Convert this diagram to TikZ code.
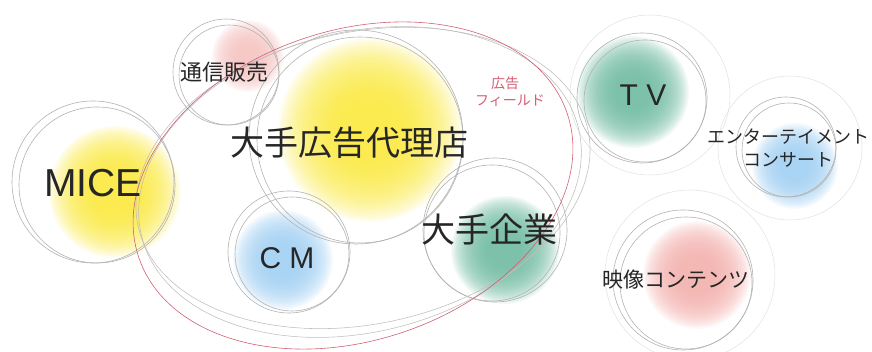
\documentclass[tikz,border=0pt]{standalone}
\usepackage{fontspec}
\setmainfont{Liberation Sans}
\newfontfamily\jp{Noto Sans CJK JP}
\definecolor{byel}{RGB}{250,232,60}
\definecolor{bgreen}{RGB}{110,186,160}
\definecolor{bblue}{RGB}{160,207,242}
\definecolor{bpink}{RGB}{242,175,172}
\definecolor{fieldred}{RGB}{210,95,115}
\newcommand\softblob[3]{%
  \foreach \k in {1,...,24}{%
    \fill[#1, opacity=0.09] #2 circle [radius={(#3*(0.3+0.7*\k/24))*1pt}];}}
\tikzset{
  ring/.style={draw=black!30, line width=0.6pt},
  ringfaint/.style={draw=black!12, line width=0.5pt},
  lbl/.style={text=black!85, inner sep=0pt},
  fieldline/.style={draw=fieldred, line width=0.6pt},
  fieldgray/.style={draw=black!26, line width=0.55pt},
  jpbig/.style={lbl, font=\jp\fontsize{34}{40}\selectfont},
}
\begin{document}
\begin{tikzpicture}[x=1pt,y=1pt]
\useasboundingbox (0,0) rectangle (872,352);
% colour blobs
\softblob{byel}{(115,160)}{66}
\softblob{bpink!75}{(248,296)}{36}
\softblob{byel}{(370,222)}{92}
\softblob{bblue}{(283,92)}{50}
\softblob{bgreen}{(505,102)}{54}
\softblob{bgreen}{(633,260)}{56}
\softblob{bblue}{(795,186)}{43}
\softblob{bpink}{(697,77)}{54}
% rings
\draw[ring] (93,170) circle [radius=81pt];
\draw[ring] (97,167) circle [radius=78pt];
\draw[ring] (226,280) circle [radius=53pt];
\draw[ring] (229,277) circle [radius=50pt];
\draw[ring] (356,215) circle [radius=107pt];
\draw[ring] (360,212) circle [radius=103pt];
\draw[ring] (289,100) circle [radius=61pt];
\draw[ring] (292,98) circle [radius=57pt];
\draw[ring] (495,122) circle [radius=72pt];
\draw[ring] (492,119) circle [radius=68pt];
\draw[ring] (642,254) circle [radius=65pt];
\draw[ring] (645,251) circle [radius=61pt];
\draw[ringfaint] (650,257) circle [radius=80pt];
\draw[ring] (786,205) circle [radius=50pt];
\draw[ring] (789,202) circle [radius=47pt];
\draw[ringfaint] (790,204) circle [radius=72pt];
\draw[ring] (683,72) circle [radius=70pt];
\draw[ring] (686,69) circle [radius=66pt];
\draw[ringfaint] (690,77) circle [radius=85pt];
% field ellipses
\draw[fieldgray, rotate around={12:(363,174)}] (363,174) ellipse [x radius=230pt, y radius=146pt];
\draw[fieldgray, rotate around={14:(360,170)}] (360,170) ellipse [x radius=225pt, y radius=150pt];
\draw[fieldline, rotate around={18.5:(353,166.5)}] (353,166.5) ellipse [x radius=226pt, y radius=155pt];
% labels
\node[lbl, font=\fontsize{39}{44}\selectfont] (mice) at (93,169) {MICE};
\node[lbl, font=\jp\fontsize{22}{26}\selectfont] (tsushin) at (224,280) {通信販売};
\node[jpbig] (kokokudairi) at (349,209) {大手広告代理店};
\node[lbl, font=\fontsize{30}{34}\selectfont] (cm) at (287,94) {C M};
\node[jpbig] (kigyo) at (489,122) {大手企業};
\node[lbl, text=fieldred, font=\jp\fontsize{14}{16}\selectfont] (kokoku) at (505,269) {広告};
\node[lbl, text=fieldred, font=\jp\fontsize{14}{16}\selectfont] (field) at (510,251) {フィールド};
\node[lbl, font=\fontsize{30}{34}\selectfont] (tv) at (643,257) {T V};
\node[lbl, font=\jp\fontsize{18}{22}\selectfont] (ent) at (788,215) {エンターテイメント};
\node[lbl, font=\jp\fontsize{18}{22}\selectfont] (concert) at (788,192) {コンサート};
\node[lbl, font=\jp\fontsize{21}{25}\selectfont] (eizo) at (676,72) {映像コンテンツ};
\end{tikzpicture}
\end{document}
